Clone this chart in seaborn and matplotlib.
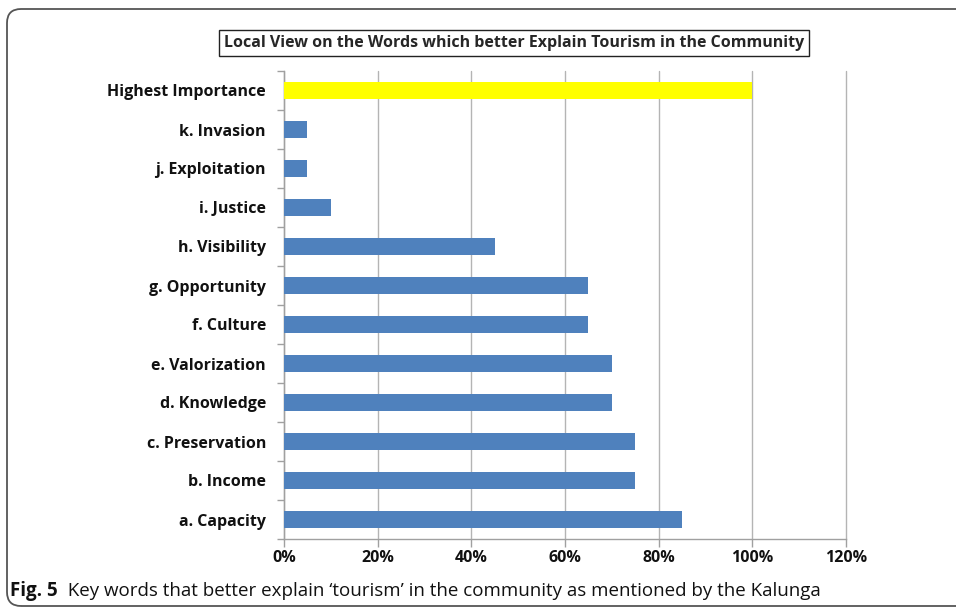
import numpy as np
import pandas as pd
import matplotlib
matplotlib.use("Agg")
import matplotlib.pyplot as plt
from matplotlib.patches import FancyBboxPatch
from matplotlib.transforms import IdentityTransform
import seaborn as sns

categories = ["Highest Importance", "k. Invasion", "j. Exploitation", "i. Justice",
              "h. Visibility", "g. Opportunity", "f. Culture", "e. Valorization",
              "d. Knowledge", "c. Preservation", "b. Income", "a. Capacity"]
values = [1.00, 0.05, 0.05, 0.10, 0.45, 0.65, 0.65, 0.70, 0.70, 0.75, 0.75, 0.85]
xticks = [0, 0.2, 0.4, 0.6, 0.8, 1.0, 1.2]
xticklabels = ["0%", "20%", "40%", "60%", "80%", "100%", "120%"]
title = "Local View on the Words which better Explain Tourism in the Community"
caption_bold = "Fig. 5"
caption_rest = "  Key words that better explain \u2018tourism\u2019 in the community as mentioned by the Kalunga"

sns.set_theme(style="white")
plt.rcParams['font.family'] = ['Open Sans', 'DejaVu Sans']

df = pd.DataFrame({"category": categories, "value": values})
palette = {c: ("#ffff00" if c == "Highest Importance" else "#4f81bd") for c in categories}

W, H = 956, 611
fig = plt.figure(figsize=(W / 100, H / 100), dpi=100)
ax = fig.add_axes([284 / W, 1 - 539 / H, (846 - 284) / W, (539 - 71) / H])

sns.barplot(data=df, y="category", x="value", hue="category", palette=palette,
            order=categories, hue_order=categories, legend=False, width=0.42,
            saturation=1, ax=ax, orient="h", zorder=3, linewidth=0)

ax.set_xlim(0, 1.2)
ax.set_ylim(len(categories) - 0.5, -0.5)
ax.set_xticks(xticks)
ax.set_xticklabels(xticklabels, fontweight="bold", fontsize=11.5)
ax.set_yticks(range(len(categories)))
ax.set_yticklabels(categories, fontweight="bold", fontsize=11.5)
ax.set_yticks(np.arange(-0.5, len(categories), 1), minor=True)
ax.tick_params(axis="y", which="major", length=0, pad=13, colors="#111111")
ax.tick_params(axis="y", which="minor", length=5, left=True, color="#a0a0a0", width=1)
ax.tick_params(axis="x", which="major", length=6, bottom=True, width=1,
               pad=2, colors="#111111")
ax.tick_params(axis="x", which="major", color="#a0a0a0")
ax.set_xlabel("")
ax.set_ylabel("")
ax.grid(axis="x", color="#b4b4b4", linewidth=1, zorder=0)
for gl in ax.get_xgridlines():
    gl.set_clip_on(False)
ax.grid(axis="y", visible=False)
for s in ["top", "right"]:
    ax.spines[s].set_visible(False)
for s in ["left", "bottom"]:
    ax.spines[s].set_color("#a0a0a0")
    ax.spines[s].set_linewidth(1)

# title box
fig.text(514 / W, 1 - 43 / H, title, ha="center", va="center", fontsize=11.5,
         fontweight="bold", fontstretch="condensed",
         family=["Liberation Sans Narrow", "Open Sans", "DejaVu Sans"],
         bbox=dict(boxstyle="square,pad=0.3", facecolor="white", edgecolor="#222222", linewidth=1.0))

# outer rounded frame
frame = FancyBboxPatch((7, 5), 980, 597, boxstyle="round,pad=0,rounding_size=14",
                       transform=IdentityTransform(), facecolor="none",
                       edgecolor="#555555", linewidth=1.3)
fig.patches.append(frame)

# caption
t1 = fig.text(10 / W, 1 - 591 / H, caption_bold, ha="left", va="center", fontsize=13.5,
              fontweight="bold", color="#111111")
fig.canvas.draw()
bb = t1.get_window_extent()
fig.text(bb.x1 / W, 1 - 591 / H, caption_rest, ha="left", va="center", fontsize=13.5,
         color="#111111")

fig.savefig("out.png", dpi=100)
